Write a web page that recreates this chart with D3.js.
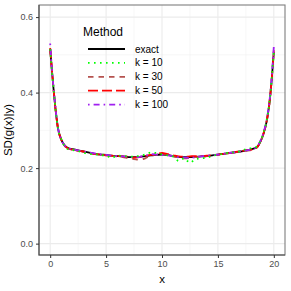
<!DOCTYPE html>
<meta charset="utf-8">
<style>
body { margin: 0; background: #fff; }
svg { font-family: "Liberation Sans", Arial, sans-serif; }
.tick text { fill: #4d4d4d; font-size: 9px; }
.tick line { stroke: #333; }
.axis path { display: none; }
.title { fill: #000; font-size: 11.5px; }
.leg-title { fill: #000; font-size: 12px; }
.leg-label { fill: #000; font-size: 10px; }
</style>
<svg></svg>
<script src="https://d3js.org/d3.v7.min.js"></script>
<script>

var xs = [0, 0.15, 0.3, 0.5, 0.7, 1, 1.3, 1.6, 2, 2.5, 3, 3.5, 4, 4.5, 5, 5.5, 6, 6.5, 7, 7.5,
  8, 8.5, 9, 9.5, 10, 10.5, 11, 11.5, 12, 12.5, 13, 13.5, 14, 14.5, 15, 15.5, 16, 16.5, 17, 17.5,
  18, 18.5, 18.8, 19.1, 19.4, 19.6, 19.8, 20];

var exact = [0.515, 0.46, 0.41, 0.35, 0.305, 0.275, 0.26, 0.253, 0.25, 0.247, 0.244, 0.241, 0.238, 0.236, 0.235, 0.233, 0.232, 0.231, 0.229, 0.229,
  0.23, 0.232, 0.234, 0.235, 0.236, 0.235, 0.232, 0.23, 0.229, 0.229, 0.23, 0.231, 0.232, 0.234, 0.236, 0.238, 0.24, 0.242, 0.244, 0.247,
  0.25, 0.256, 0.27, 0.293, 0.33, 0.37, 0.43, 0.507];

var k10 = [0.515, 0.46, 0.41, 0.35, 0.305, 0.276, 0.258, 0.25, 0.248, 0.245, 0.241, 0.237, 0.237, 0.234, 0.233, 0.227, 0.233, 0.232, 0.231, 0.23,
  0.233, 0.236, 0.241, 0.24, 0.237, 0.234, 0.231, 0.219, 0.226, 0.214, 0.224, 0.226, 0.227, 0.233, 0.235, 0.238, 0.241, 0.242, 0.245, 0.25,
  0.253, 0.257, 0.272, 0.295, 0.332, 0.372, 0.432, 0.51];

var k30 = [0.515, 0.46, 0.41, 0.35, 0.305, 0.275, 0.259, 0.252, 0.249, 0.246, 0.243, 0.24, 0.237, 0.235, 0.234, 0.232, 0.231, 0.229, 0.226, 0.224,
  0.222, 0.226, 0.233, 0.236, 0.238, 0.236, 0.231, 0.228, 0.226, 0.227, 0.229, 0.23, 0.232, 0.234, 0.235, 0.237, 0.24, 0.242, 0.244, 0.246,
  0.248, 0.255, 0.27, 0.293, 0.33, 0.37, 0.43, 0.508];

var k50 = [0.518, 0.462, 0.41, 0.35, 0.305, 0.275, 0.26, 0.252, 0.249, 0.246, 0.244, 0.241, 0.238, 0.236, 0.234, 0.233, 0.232, 0.231, 0.23, 0.228,
  0.229, 0.232, 0.235, 0.237, 0.24, 0.237, 0.234, 0.231, 0.23, 0.231, 0.232, 0.232, 0.233, 0.234, 0.236, 0.238, 0.24, 0.242, 0.245, 0.247,
  0.249, 0.255, 0.27, 0.294, 0.331, 0.371, 0.432, 0.512];

var k100 = [0.53, 0.465, 0.412, 0.352, 0.306, 0.275, 0.26, 0.253, 0.25, 0.247, 0.244, 0.241, 0.239, 0.237, 0.235, 0.233, 0.232, 0.231, 0.23, 0.229,
  0.23, 0.232, 0.237, 0.236, 0.235, 0.234, 0.232, 0.229, 0.228, 0.227, 0.229, 0.231, 0.233, 0.234, 0.236, 0.238, 0.24, 0.242, 0.244, 0.247,
  0.25, 0.257, 0.272, 0.296, 0.334, 0.375, 0.436, 0.522];

var methods = ['exact', 'k = 10', 'k = 30', 'k = 50', 'k = 100'];
var colors = ['#000000', '#00ff00', '#b5524f', '#ff0000', '#a020f0'];
var dashes = [null, '1.6,4.4', '5.5,5', '10,4', '1.6,4,6,4'];
var seriesValues = [exact, k10, k30, k50, k100];

var xTicks = [0, 5, 10, 15, 20];
var yTicks = [0, 0.2, 0.4, 0.6];

var W = 291, H = 291;
var panel = { left: 39, right: 285, top: 5, bottom: 255 };

var svg = d3.select('svg').attr('width', W).attr('height', H);

var x = d3.scaleLinear().domain([-1, 21]).range([panel.left, panel.right]);
var y = d3.scaleLinear().domain([-0.0301, 0.632]).range([panel.bottom, panel.top]);

// panel background + grid
svg.append('rect')
  .attr('x', panel.left).attr('y', panel.top)
  .attr('width', panel.right - panel.left).attr('height', panel.bottom - panel.top)
  .attr('fill', '#fff');

var grid = svg.append('g');
[2.5, 7.5, 12.5, 17.5].forEach(function (v) {
  grid.append('line').attr('x1', x(v)).attr('x2', x(v))
    .attr('y1', panel.top).attr('y2', panel.bottom)
    .attr('stroke', '#f2f2f2').attr('stroke-width', 0.6);
});
[0.1, 0.3, 0.5].forEach(function (v) {
  grid.append('line').attr('y1', y(v)).attr('y2', y(v))
    .attr('x1', panel.left).attr('x2', panel.right)
    .attr('stroke', '#f2f2f2').attr('stroke-width', 0.6);
});
xTicks.forEach(function (v) {
  grid.append('line').attr('x1', x(v)).attr('x2', x(v))
    .attr('y1', panel.top).attr('y2', panel.bottom)
    .attr('stroke', '#ebebeb').attr('stroke-width', 1.1);
});
yTicks.forEach(function (v) {
  grid.append('line').attr('y1', y(v)).attr('y2', y(v))
    .attr('x1', panel.left).attr('x2', panel.right)
    .attr('stroke', '#ebebeb').attr('stroke-width', 1.1);
});

// lines
var line = d3.line()
  .x(function (d) { return x(d[0]); })
  .y(function (d) { return y(d[1]); })
  .curve(d3.curveMonotoneX);

var drawOrder = [0, 2, 3, 4, 1];
drawOrder.forEach(function (i) {
  var pts = xs.map(function (v, j) { return [v, seriesValues[i][j]]; });
  svg.append('path')
    .attr('d', line(pts))
    .attr('fill', 'none')
    .attr('stroke', colors[i])
    .attr('stroke-width', 1.8)
    .attr('stroke-dasharray', dashes[i]);
});

// border
svg.append('rect')
  .attr('x', panel.left).attr('y', panel.top)
  .attr('width', panel.right - panel.left).attr('height', panel.bottom - panel.top)
  .attr('fill', 'none').attr('stroke', '#7f7f7f').attr('stroke-width', 1.1);
svg.append('path')
  .attr('d', 'M' + panel.left + ',' + panel.top + 'V' + panel.bottom + 'H' + panel.right)
  .attr('fill', 'none').attr('stroke', '#4d4d4d').attr('stroke-width', 1.1);

// axes
svg.append('g').attr('class', 'axis')
  .attr('transform', 'translate(0,' + panel.bottom + ')')
  .call(d3.axisBottom(x).tickValues(xTicks).tickSize(3).tickPadding(3).tickFormat(d3.format('d')));

svg.append('g').attr('class', 'axis')
  .attr('transform', 'translate(' + panel.left + ',0)')
  .call(d3.axisLeft(y).tickValues(yTicks).tickSize(3).tickPadding(3).tickFormat(d3.format('.1f')));

svg.append('text').attr('class', 'title')
  .attr('x', (panel.left + panel.right) / 2).attr('y', 283)
  .attr('text-anchor', 'middle').text('x');

svg.append('text').attr('class', 'title')
  .attr('transform', 'translate(12,' + ((panel.top + panel.bottom) / 2) + ') rotate(-90)')
  .attr('text-anchor', 'middle').text('SD(g(x)|y)');

// legend
var leg = svg.append('g');
leg.append('text').attr('class', 'leg-title')
  .attr('x', 83).attr('y', 36).text('Method');
methods.forEach(function (m, i) {
  var yy = 49 + i * 13.9;
  leg.append('line')
    .attr('x1', 88).attr('x2', 125).attr('y1', yy).attr('y2', yy)
    .attr('stroke', colors[i]).attr('stroke-width', 1.8)
    .attr('stroke-dasharray', dashes[i]);
  leg.append('text').attr('class', 'leg-label')
    .attr('x', 135).attr('y', yy + 3.5).text(m);
});

</script>
